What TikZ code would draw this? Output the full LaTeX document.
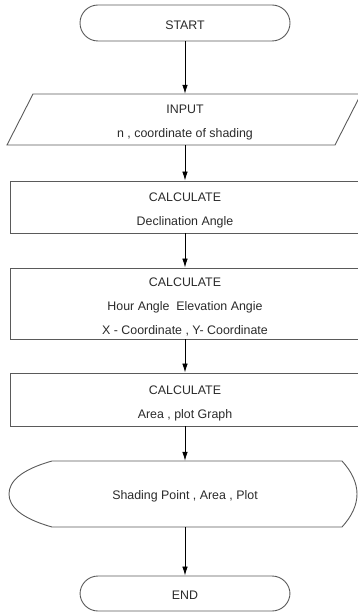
\documentclass[tikz,border=0pt]{standalone}
\usepackage{fontspec}
\setmainfont{Liberation Sans}
\usetikzlibrary{arrows.meta}
\definecolor{shapeline}{HTML}{5A5A5A}
\definecolor{txt}{HTML}{2A2A2A}
\tikzset{
  every node/.style={inner sep=0pt},
  labeltext/.style={font=\fontsize{12.4}{24}\selectfont, text=txt, align=center},
  outline/.style={draw=shapeline, line width=0.9pt},
  terminal/.style={outline, rounded corners=18pt, minimum width=210pt, minimum height=36pt},
  procbox/.style={outline, minimum width=350pt},
  hiddenbox/.style={minimum width=350pt},
  flowarrow/.style={draw=black, line width=0.8pt, -{Latex[length=9pt,width=5.5pt]}}
}
\begin{document}
\begin{tikzpicture}[x=1pt,y=-1pt]
\useasboundingbox (0,0) rectangle (358,612);
\node[terminal] (start) at (185,23) {};
\node[hiddenbox, minimum height=51pt] (input) at (185,119.5) {};
\draw[outline] (33,94) -- (361,94) -- (335,145) -- (7,145) -- cycle;
\node[procbox, minimum height=52pt] (calc1) at (185,207) {};
\node[procbox, minimum height=71pt] (calc2) at (185,303.5) {};
\node[procbox, minimum height=53pt] (calc3) at (185,399.5) {};
\node[hiddenbox, minimum height=66pt] (display) at (185,494) {};
\draw[outline]
  (52,461) -- (342,461)
  .. controls (352,472) and (357,483) .. (357,494)
  .. controls (357,505) and (352,516) .. (342,527)
  -- (52,527)
  .. controls (20,518) and (9,506) .. (9,494)
  .. controls (9,482) and (20,470) .. (52,461) -- cycle;
\node[terminal, minimum height=35pt] (end) at (185,593.5) {};
% texts
\node[labeltext] (starttext) at (185,25) {START};
\node[labeltext] (inputtext) at (185,122.5) {INPUT\\n , coordinate of shading};
\node[labeltext] (calc1text) at (185,210.5) {CALCULATE\\Declination Angle};
\node[labeltext] (calc2text) at (185,306.5) {CALCULATE\\Hour Angle~~Elevation Angie\\X - Coordinate , Y- Coordinate};
\node[labeltext] (calc3text) at (185,403) {CALCULATE\\Area , plot Graph};
\node[labeltext] (displaytext) at (185,496.5) {Shading Point , Area , Plot};
\node[labeltext] (endtext) at (185,595.5) {END};
% connectors
\draw[flowarrow] (start) -- (input);
\draw[flowarrow] (input) -- (calc1);
\draw[flowarrow] (calc1) -- (calc2);
\draw[flowarrow] (calc2) -- (calc3);
\draw[flowarrow] (calc3) -- (display);
\draw[flowarrow] (display) -- (end);
\end{tikzpicture}
\end{document}
